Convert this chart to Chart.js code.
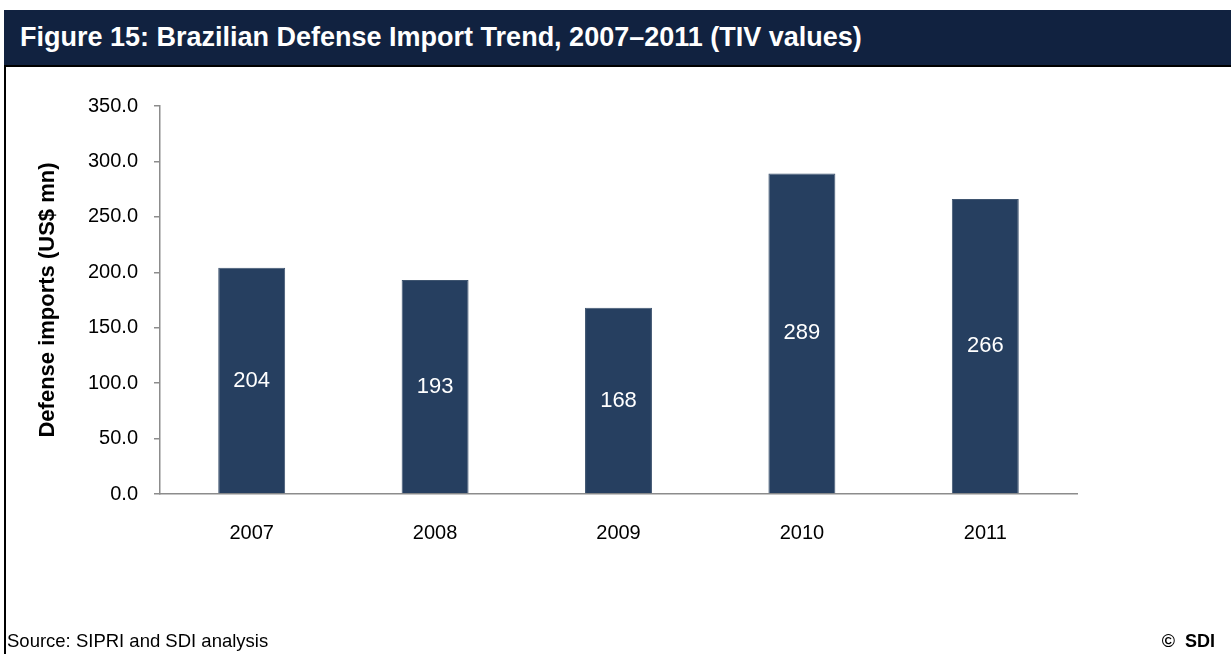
<!DOCTYPE html>
<html>
<head>
<meta charset="utf-8">
<script src="https://cdn.jsdelivr.net/npm/chart.js@4/dist/chart.umd.min.js"></script>
<style>
    body { margin: 0; background: #fff; font-family: "Liberation Sans", Arial, sans-serif; }
    #pagina { position: relative; width: 1231px; height: 654px; overflow: hidden; }
    #grafico { position: absolute; left: 0; top: 0; }
    #cabecalho {
        position: absolute; left: 4px; top: 10px; width: 1227px; height: 55px;
        background: #112240; color: #fff; font-weight: bold; font-size: 27px;
        line-height: 55px; padding-left: 16px; box-sizing: border-box; white-space: nowrap;
    }
    #quadro {
        position: absolute; left: 4px; top: 65px; width: 1227px; height: 589px;
        border-left: 2px solid #000; border-top: 2px solid #000; box-sizing: border-box;
    }
    #fonte { position: absolute; left: 7px; top: 630px; font-size: 18.5px; line-height: 22px; }
    #copy { position: absolute; right: 16px; top: 630px; font-size: 18px; line-height: 22px; font-weight: bold; }
</style>
</head>
<body>
<div id="pagina">
    <canvas id="grafico" width="1231" height="654"></canvas>
    <div id="quadro"></div>
    <div id="cabecalho">Figure 15: Brazilian Defense Import Trend, 2007–2011 (TIV values)</div>
    <div id="fonte">Source: SIPRI and SDI analysis</div>
    <div id="copy">©&nbsp; SDI</div>
</div>
<script>
// anos e valores de importação (US$ mn)
var anos = ['2007', '2008', '2009', '2010', '2011']
var importacoes = [204, 193, 168, 289, 266]
var yMin = 0
var yMax = 350
var yPasso = 50

var fonteBase = '"Liberation Sans", Arial, sans-serif'

// escreve o valor de cada barra no meio dela
var rotulosBarras = {
    id: 'rotulosBarras',
    afterDatasetsDraw: function (chart) {
        var ctx = chart.ctx
        var meta = chart.getDatasetMeta(0)
        ctx.save()
        ctx.fillStyle = '#ffffff'
        ctx.font = '22px ' + fonteBase
        ctx.textAlign = 'center'
        ctx.textBaseline = 'middle'
        for (var i = 0; i < meta.data.length; i++) {
            var barra = meta.data[i]
            var meio = (barra.y + barra.base) / 2
            ctx.fillText(String(importacoes[i]), barra.x, meio)
        }
        ctx.restore()
    }
}

var dados = {
    labels: anos,
    datasets: [{
        label: 'Defense imports',
        data: importacoes,
        backgroundColor: '#263f60',
        borderColor: '#3f5570',
        borderWidth: 1,
        barPercentage: 0.365,
        categoryPercentage: 1
    }]
}

var config = {
    type: 'bar',
    data: dados,
    options: {
        responsive: false,
        animation: false,
        layout: { padding: { top: 106, right: 154, bottom: 0, left: 0 } },
        plugins: {
            legend: { display: false },
            tooltip: { enabled: false }
        },
        scales: {
            x: {
                grid: { display: false },
                border: { display: true, color: '#8c8c8c', width: 1.5 },
                ticks: { color: '#000', padding: 19, font: { family: fonteBase, size: 20 } },
                afterFit: function (escala) { escala.height = 160 }
            },
            y: {
                min: yMin,
                max: yMax,
                ticks: {
                    stepSize: yPasso,
                    color: '#000',
                    padding: 16,
                    font: { family: fonteBase, size: 20 },
                    callback: function (v) { return v.toFixed(1) }
                },
                grid: { drawOnChartArea: false, drawTicks: true, tickLength: 6, color: '#8c8c8c', lineWidth: 1.5 },
                border: { display: true, color: '#8c8c8c', width: 1.5 },
                title: {
                    display: true,
                    text: 'Defense imports (US$ mn)',
                    color: '#000',
                    padding: { top: 35, bottom: 0 },
                    font: { family: fonteBase, size: 22, weight: 'bold' }
                },
                afterFit: function (escala) { escala.width = 160 }
            }
        }
    },
    plugins: [rotulosBarras]
}

var myChart = new Chart(document.getElementById('grafico'), config)
</script>
</body>
</html>
